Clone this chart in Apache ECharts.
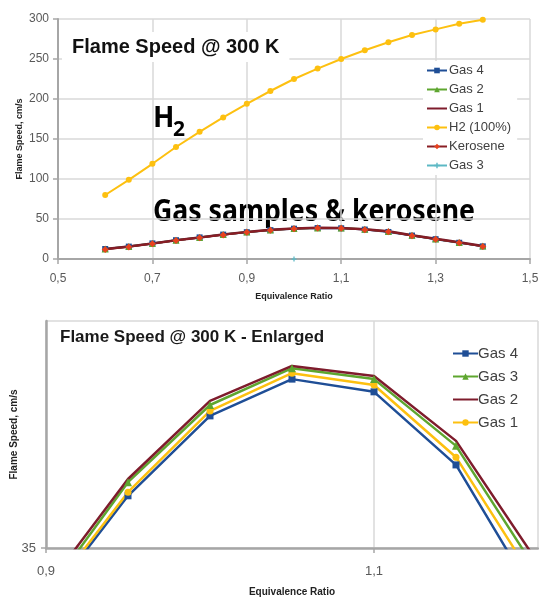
<!DOCTYPE html>
<html>
<head>
<meta charset="utf-8">
<script src="https://cdn.jsdelivr.net/npm/echarts@6/dist/echarts.min.js"></script>
<style>
html,body{margin:0;padding:0;background:#fff;}
#top,#bot{position:absolute;left:0;top:0;width:539px;height:598px;}
</style>
</head>
<body>
<div id="bot"></div>
<div id="top"></div>
<script>
// ---------- data: top chart ----------
var ratiosTop = [0.6, 0.65, 0.7, 0.75, 0.8, 0.85, 0.9, 0.95, 1.0, 1.05, 1.1, 1.15, 1.2, 1.25, 1.3, 1.35, 1.4];
var h2Top      = [80, 99, 119, 140, 159, 177, 194, 210, 225, 238, 250, 261, 271, 280, 287, 294, 299];
var gas4Top    = [12.5, 15.5, 19.5, 23.5, 27, 30.5, 33.5, 36.1, 37.9, 38.7, 38.4, 36.8, 33.8, 29.3, 24.8, 20.3, 15.8];
var gas2Top    = [12.5, 15.5, 19.5, 23.5, 27, 30.5, 33.7, 36.4, 38.1, 38.9, 38.7, 37.2, 34.4, 29.6, 25.1, 20.6, 16.1];
var gas1Top    = [12.5, 15.5, 19.5, 23.5, 27, 30.5, 33.9, 36.5, 38.2, 39.0, 38.8, 37.3, 34.6, 29.8, 25.3, 20.8, 16.3];
var keroTop    = [12.0, 15.0, 19.0, 23.0, 26.5, 30.0, 33.5, 36.0, 37.8, 38.6, 38.3, 36.7, 34.0, 29.2, 24.7, 20.2, 15.7];
var gas3TopX   = [1.0];
var gas3TopY   = [0];
var xTicksTop  = {min: 0.5, max: 1.5, interval: 0.2};
var yTicksTop  = {min: 0, max: 300, interval: 50};

// ---------- data: bottom (enlarged) chart ----------
var ratiosBot = [0.9, 0.95, 1.0, 1.05, 1.1, 1.15, 1.2];
var gas4Bot   = [33.80, 36.15, 37.91, 38.72, 38.44, 36.83, 33.81];
var gas3Bot   = [33.97, 36.45, 38.15, 38.96, 38.72, 37.25, 34.45];
var gas2Bot   = [34.12, 36.52, 38.24, 39.01, 38.79, 37.36, 34.67];
var gas1Bot   = [33.88, 36.23, 38.02, 38.85, 38.59, 37.00, 34.16];
var xTicksBot = {min: 0.9, max: 1.2, interval: 0.2};
var yTicksBot = {min: 35, max: 40, interval: 5};

function pairs(xs, ys){ return xs.map(function(x,i){ return [x, ys[i]]; }); }
function comma(v){ return (Math.round(v*10)/10).toFixed(1).replace('.', ','); }

var BLUE = '#1f4e96', GREEN = '#5ea62f', MAROON = '#7e1c2c', YELLOW = '#fdc010', TEAL = '#5cb8c4';
var AXIS = '#a6a6a6', GRID = '#d9d9d9', LABEL = '#595959';
var SANS = '"Liberation Sans", Arial, sans-serif';
var NONE = 'rgba(0,0,0,0)';

// ---------- top chart ----------
var c1 = echarts.init(document.getElementById('top'));
c1.setOption({
  animation: false,
  title: {
    text: 'Flame Speed @ 300 K', left: 62, top: 32, padding: [5, 10],
    backgroundColor: '#fff',
    textStyle: {fontFamily: SANS, fontSize: 20, fontWeight: 'bold', color: '#111'}
  },
  legend: {
    orient: 'vertical', left: 423, top: 61, padding: [3, 6, 3, 3],
    backgroundColor: '#fff', itemWidth: 20, itemHeight: 7, itemGap: 6,
    data: ['Gas 4', 'Gas 2', 'Gas 1', 'H2 (100%)', 'Kerosene', 'Gas 3'],
    textStyle: {fontFamily: SANS, fontSize: 13, color: '#404040', padding: [0, 0, 0, -3]}
  },
  grid: {left: 58, top: 19, width: 472, height: 240, outerBoundsMode: 'none'},
  xAxis: {
    type: 'value', min: xTicksTop.min, max: xTicksTop.max, interval: xTicksTop.interval,
    name: 'Equivalence Ratio', nameLocation: 'middle', nameGap: 33, nameMoveOverlap: false,
    nameTextStyle: {fontFamily: SANS, fontSize: 9, fontWeight: 'bold', color: '#222'},
    axisLine: {lineStyle: {color: AXIS, width: 2}},
    axisTick: {show: true, length: 5, lineStyle: {color: AXIS, width: 1.5}},
    axisLabel: {formatter: comma, margin: 14, fontFamily: SANS, fontSize: 12, color: LABEL},
    splitLine: {show: true, lineStyle: {color: GRID, width: 1.5}}
  },
  yAxis: {
    type: 'value', min: yTicksTop.min, max: yTicksTop.max, interval: yTicksTop.interval,
    name: 'Flame Speed, cm/s', nameLocation: 'middle', nameGap: 34, nameMoveOverlap: false,
    nameTextStyle: {fontFamily: SANS, fontSize: 9, fontWeight: 'bold', color: '#222'},
    axisLine: {show: true, lineStyle: {color: AXIS, width: 2}},
    axisTick: {show: true, length: 5, lineStyle: {color: AXIS, width: 1.5}},
    axisLabel: {margin: 9, fontFamily: SANS, fontSize: 12, color: LABEL},
    splitLine: {show: true, lineStyle: {color: GRID, width: 1.5}}
  },
  graphic: [
    {type: 'text', x: 153, y: 119, style: {text: 'H', fontFamily: '"Noto Sans", sans-serif', fontSize: 28, fontWeight: 'bold', fill: '#000', verticalAlign: 'middle'}},
    {type: 'text', x: 173, y: 130, style: {text: '2', fontFamily: '"Noto Sans", sans-serif', fontSize: 21, fontWeight: 'bold', fill: '#000', verticalAlign: 'middle'}},
    {type: 'text', x: 153, y: 212, scaleX: 0.86, style: {text: 'Gas samples & kerosene', fontFamily: '"Noto Sans", sans-serif', fontSize: 31, fontWeight: 'bold', fill: '#000', verticalAlign: 'middle'}}
  ],
  series: [
    {name: 'Gas 4', type: 'line', data: pairs(ratiosTop, gas4Top), symbol: 'rect', symbolSize: 6,
      itemStyle: {color: BLUE}, lineStyle: {color: BLUE, width: 2}},
    {name: 'Gas 2', type: 'line', data: pairs(ratiosTop, gas2Top), symbol: 'triangle', symbolSize: 7,
      itemStyle: {color: GREEN}, lineStyle: {color: GREEN, width: 2}},
    {name: 'Gas 1', type: 'line', data: pairs(ratiosTop, gas1Top), symbol: 'circle', showSymbol: false,
      itemStyle: {color: NONE, borderWidth: 0}, lineStyle: {color: MAROON, width: 2.5}},
    {name: 'H2 (100%)', type: 'line', data: pairs(ratiosTop, h2Top), symbol: 'circle', symbolSize: 6,
      itemStyle: {color: YELLOW}, lineStyle: {color: YELLOW, width: 2}},
    {name: 'Kerosene', type: 'line', data: pairs(ratiosTop, keroTop), symbol: 'diamond', symbolSize: 7,
      itemStyle: {color: '#e8421e'}, lineStyle: {color: '#8a1e24', width: 1.5}},
    {name: 'Gas 3', type: 'line', data: pairs(gas3TopX, gas3TopY), symbol: 'path://M3,0H5V3H8V5H5V8H3V5H0V3H3Z', symbolSize: 5,
      itemStyle: {color: TEAL}, lineStyle: {color: TEAL, width: 1}}
  ]
});

// ---------- bottom chart ----------
var c2 = echarts.init(document.getElementById('bot'));
c2.setOption({
  animation: false,
  title: {
    text: 'Flame Speed @ 300 K - Enlarged', left: 60, top: 329, padding: 0,
    textStyle: {fontFamily: SANS, fontSize: 17, fontWeight: 'bold', color: '#1a1a1a'}
  },
  legend: {
    orient: 'vertical', left: 450, top: 342, padding: [4, 2],
    itemWidth: 25, itemHeight: 8, itemGap: 8,
    data: ['Gas 4', 'Gas 3', 'Gas 2', 'Gas 1'],
    textStyle: {fontFamily: SANS, fontSize: 15, color: '#404040', padding: [0, 0, 0, -5]}
  },
  grid: {left: 46, top: 321, right: 1, bottom: 50, outerBoundsMode: 'none'},
  xAxis: {
    type: 'value', min: xTicksBot.min, max: xTicksBot.max, interval: xTicksBot.interval,
    name: 'Equivalence Ratio', nameLocation: 'middle', nameGap: 39, nameMoveOverlap: false,
    nameTextStyle: {fontFamily: SANS, fontSize: 10, fontWeight: 'bold', color: '#222'},
    axisLine: {lineStyle: {color: AXIS, width: 2.5}},
    axisTick: {show: true, length: 5, lineStyle: {color: AXIS, width: 1.5}},
    axisLabel: {formatter: comma, showMaxLabel: false, margin: 17, fontFamily: SANS, fontSize: 13, color: LABEL},
    splitLine: {show: true, lineStyle: {color: GRID, width: 1.5}}
  },
  yAxis: {
    type: 'value', min: yTicksBot.min, max: yTicksBot.max, interval: yTicksBot.interval,
    name: 'Flame Speed, cm/s', nameLocation: 'middle', nameGap: 27, nameMoveOverlap: false,
    nameTextStyle: {fontFamily: SANS, fontSize: 10, fontWeight: 'bold', color: '#222'},
    axisLine: {show: true, lineStyle: {color: AXIS, width: 2.5}},
    axisTick: {show: true, length: 5, lineStyle: {color: AXIS, width: 1.5}},
    axisLabel: {showMaxLabel: false, margin: 10, fontFamily: SANS, fontSize: 13, color: LABEL},
    splitLine: {show: true, lineStyle: {color: GRID, width: 1.5}}
  },
  series: [
    {name: 'Gas 4', type: 'line', data: pairs(ratiosBot, gas4Bot), symbol: 'rect', symbolSize: 7,
      itemStyle: {color: BLUE}, lineStyle: {color: BLUE, width: 2.5}},
    {name: 'Gas 1', type: 'line', data: pairs(ratiosBot, gas1Bot), symbol: 'circle', symbolSize: 7,
      itemStyle: {color: YELLOW}, lineStyle: {color: YELLOW, width: 2.5}},
    {name: 'Gas 3', type: 'line', data: pairs(ratiosBot, gas3Bot), symbol: 'triangle', symbolSize: 8,
      itemStyle: {color: GREEN}, lineStyle: {color: GREEN, width: 2.5}},
    {name: 'Gas 2', type: 'line', data: pairs(ratiosBot, gas2Bot), symbol: 'circle', showSymbol: false,
      itemStyle: {color: NONE, borderWidth: 0}, lineStyle: {color: MAROON, width: 2.5}}
  ]
});
</script>
</body>
</html>
